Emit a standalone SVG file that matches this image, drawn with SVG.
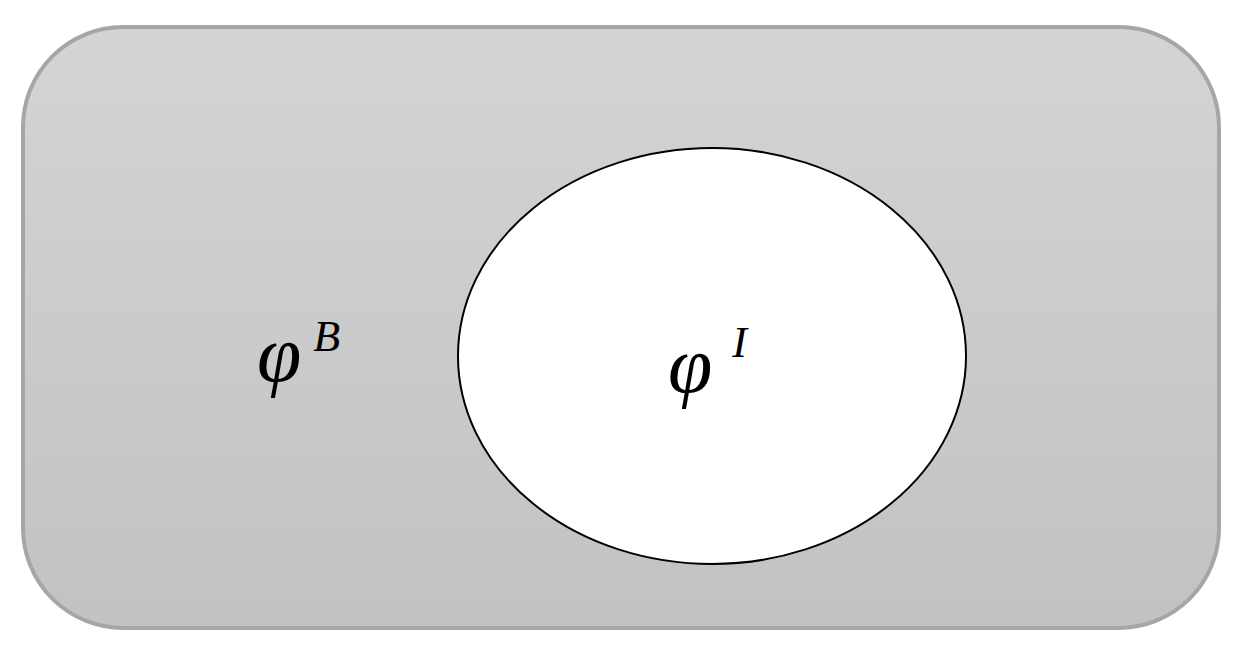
<svg xmlns="http://www.w3.org/2000/svg" width="1252" height="660" viewBox="0 0 1252 660">
<defs>
<linearGradient id="g" x1="0" y1="0" x2="0" y2="1">
<stop offset="0" stop-color="#d4d4d4"/>
<stop offset="1" stop-color="#c2c2c2"/>
</linearGradient>
<style>
.lbl{font-family:"Liberation Serif","DejaVu Serif",serif;font-style:italic;fill:#000}
</style>
</defs>
<rect width="1252" height="660" fill="#fff"/>
<g id="outer">
<rect x="23" y="27" width="1196" height="601" rx="100" ry="100" fill="url(#g)" stroke="#a6a6a6" stroke-width="4"/>
<text class="lbl" x="257" y="381" font-size="80">φ<tspan font-size="44" dx="12" dy="-30">B</tspan></text>
</g>
<g id="inner">
<ellipse cx="712" cy="356" rx="254" ry="208" fill="#fff" stroke="#000" stroke-width="2"/>
<text class="lbl" x="668" y="392" font-size="80">φ<tspan font-size="44" dx="20" dy="-35">I</tspan></text>
</g>
<g id="connectors"/>
</svg>
